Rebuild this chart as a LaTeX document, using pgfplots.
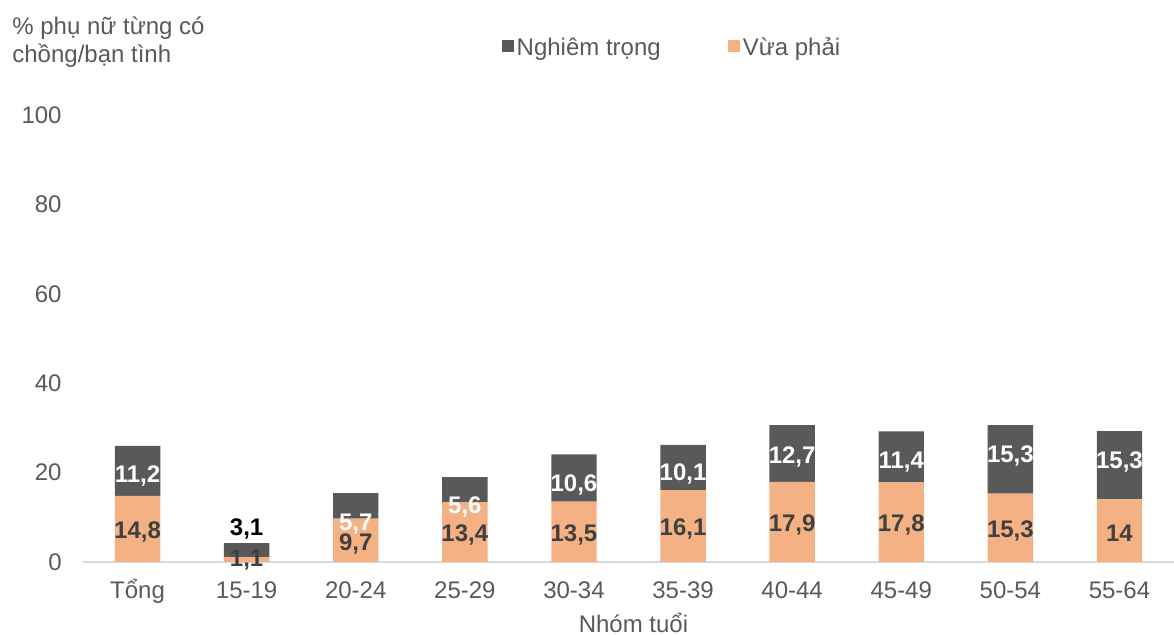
\documentclass[border=0pt]{standalone}
\usepackage{pgfplots}
\pgfplotsset{compat=1.18}
\usepackage{pgfplotstable}
\usepackage{fontspec}
\setmainfont{Liberation Sans}
\definecolor{dk}{HTML}{595959}
\definecolor{og}{HTML}{F4B183}
\definecolor{tx}{HTML}{595959}
\definecolor{lb}{HTML}{404040}
\definecolor{ax}{HTML}{D9D9D9}
\newcommand\blk[1]{\textcolor{black}{#1}}

\pgfplotstableread{
x mod modlab moddy
0 14.8 14,8 -1.5
1 1.1 1,1 -0.5
2 9.7 9,7 -2
3 13.4 13,4 -1.5
4 13.5 13,5 -1.5
5 16.1 16,1 -1.5
6 17.9 17,9 -1.5
7 17.8 17,8 -1.5
8 15.3 15,3 -1.5
9 14 14 -1.5
}\modtab

\pgfplotstableread{
x sev sevlab sevdy
0 11.2 11,2 -2.5
1 3.1 \blk{3,1} 10.5
2 5.7 5,7 -9
3 5.6 5,6 -8.5
4 10.6 10,6 -3.5
5 10.1 10,1 -3.5
6 12.7 12,7 -1.5
7 11.4 11,4 -2.5
8 15.3 15,3 1.5
9 15.3 15,3 1.5
}\sevtab

\begin{document}
\begin{tikzpicture}[font=\fontsize{12}{14}\selectfont]
\useasboundingbox (-41.5pt,-36.5pt) rectangle (545.5pt,281pt);
\begin{axis}[
  at={(0,0)}, anchor=south west,
  scale only axis, width=545.5pt, height=223.5pt,
  ybar stacked, bar width=22.7pt,
  xmin=-0.5, xmax=9.5, ymin=0, ymax=100,
  enlargelimits=false,
  xtick={0,...,9},
  xticklabels={Tổng,15-19,20-24,25-29,30-34,35-39,40-44,45-49,50-54,55-64},
  ytick={0,20,...,100},
  axis lines*=left,
  y axis line style={draw=none},
  x axis line style={draw=ax, line width=1pt},
  major tick length=0pt, tick style={draw=none},
  /pgf/number format/assume math mode=true,
  ticklabel style={text=tx, font=\fontsize{12}{14}\selectfont},
  yticklabel style={anchor=east, inner sep=0pt, xshift=-10.5pt},
  xticklabel style={anchor=base, inner sep=0pt, yshift=-18.5pt},
  xlabel={Nhóm tuổi},
  xlabel style={at={(axis description cs:0.5046,0)}, anchor=base, yshift=-35.5pt, inner sep=0pt, text=tx, font=\fontsize{12}{14}\selectfont},
  legend style={at={(0.5403,1.15)}, anchor=center, draw=none, fill=none,
    legend columns=2, font=\fontsize{12}{14}\selectfont, text=tx,
    nodes={inner xsep=1.5pt},
    /tikz/every even column/.append style={column sep=32pt}},
  legend cell align=left,
  reverse legend,
  legend image code/.code={\draw[#1,/tikz/.cd,draw=none] (0pt,-2pt) rectangle (6pt,4pt);},
]
\addplot[fill=og, draw=none, point meta=explicit symbolic, nodes near coords,
  visualization depends on={\thisrow{moddy} \as \dy},
  every node near coord/.append style={anchor=center, yshift=\dy pt, text=lb, font=\fontsize{12}{14}\selectfont\bfseries}]
  table[x=x, y=mod, meta=modlab] {\modtab};
\addplot[fill=dk, draw=none, point meta=explicit symbolic, nodes near coords,
  visualization depends on={\thisrow{sevdy} \as \dy},
  every node near coord/.append style={anchor=center, yshift=\dy pt, text=white, font=\fontsize{12}{14}\selectfont\bfseries}]
  table[x=x, y=sev, meta=sevlab] {\sevtab};
\legend{Vừa phải, Nghiêm trọng}
\end{axis}
\node[anchor=base west, inner sep=0pt, text=tx] at (-35.5pt,263.5pt) {\% phụ nữ từng có};
\node[anchor=base west, inner sep=0pt, text=tx] at (-35.5pt,249.5pt) {chồng/bạn tình};
\end{tikzpicture}
\end{document}
